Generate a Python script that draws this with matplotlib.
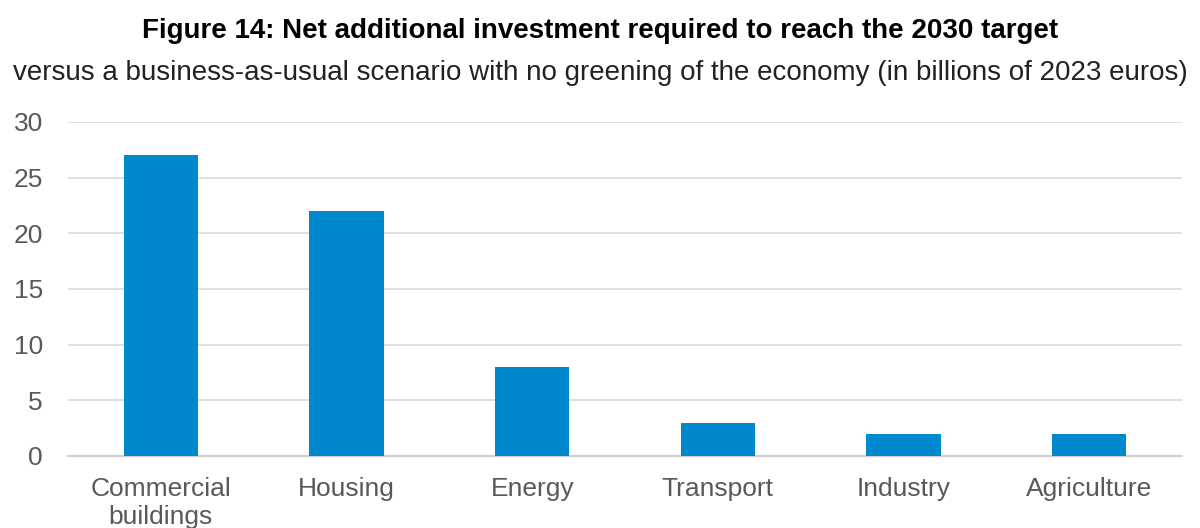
import matplotlib
matplotlib.use("Agg")
import matplotlib.pyplot as plt

plt.rcParams["font.family"] = ["Liberation Sans", "DejaVu Sans"]

categories = ["Commercial\nbuildings", "Housing", "Energy", "Transport", "Industry", "Agriculture"]
values = [27, 22, 8, 3, 2, 2]
yticks = [0, 5, 10, 15, 20, 25, 30]

bar_blue = "#0088CE"
grey_text = "#595959"

fig = plt.figure(figsize=(12, 5.28), dpi=100)
ax = fig.add_axes([0.0567, 0.1364, 0.9283, 0.6326])

x = list(range(len(categories)))
ax.bar(x, values, width=0.4, color=bar_blue, zorder=3)

ax.set_xlim(-0.5, len(categories) - 0.5)
ax.set_ylim(0, 30)
ax.set_yticks(yticks)
ax.set_xticks(x)
ax.set_xticklabels(categories, va="top", linespacing=1.2)
ax.tick_params(axis="both", length=0, labelsize=19, labelcolor=grey_text)
ax.tick_params(axis="x", pad=15)
ax.tick_params(axis="y", pad=18)

ax.grid(axis="y", color="#d9d9d9", linewidth=1.2, zorder=0)
for side in ["top", "right", "left"]:
    ax.spines[side].set_visible(False)
ax.spines["bottom"].set_color("#d0d0d0")
ax.spines["bottom"].set_linewidth(1.5)

fig.text(0.5, 0.941, "Figure 14: Net additional investment required to reach the 2030 target",
         ha="center", va="center", fontsize=20, fontweight="bold", color="black")
fig.text(0.5, 0.862, "versus a business-as-usual scenario with no greening of the economy (in billions of 2023 euros)",
         ha="center", va="center", fontsize=20, color="#222222")

fig.savefig("out.png", dpi=100)
